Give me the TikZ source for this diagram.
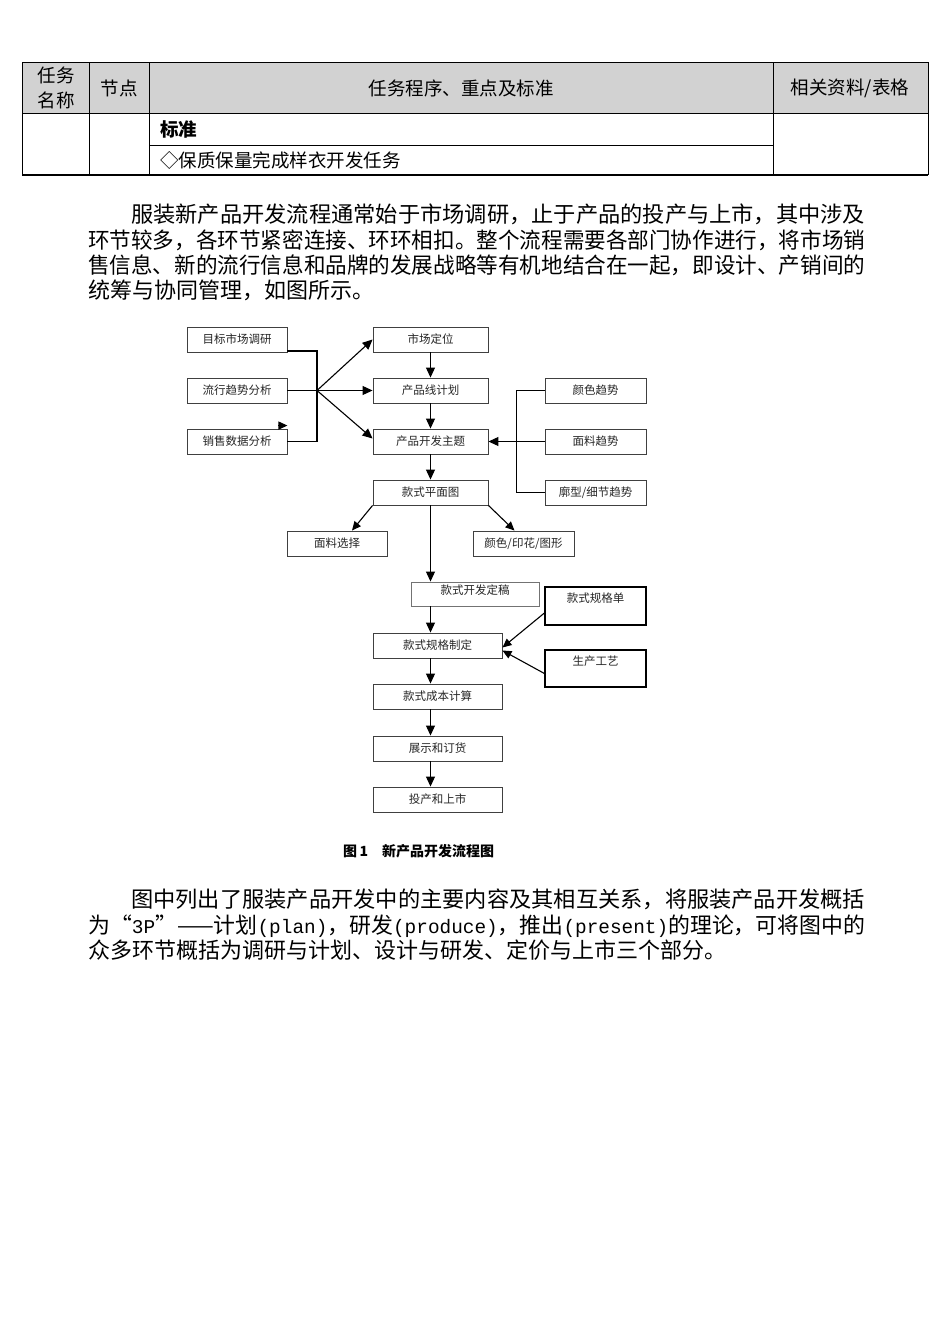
\documentclass[tikz,border=0pt]{standalone}
\usepackage{graphicx}
\usepackage{fontspec}
\setmainfont{Noto Sans CJK SC}
\newfontfamily\monof{Liberation Mono}
\usetikzlibrary{arrows.meta}
\newcommand\jline[2]{\resizebox{#1}{\height}{#2}}
\newcommand\lat[1]{{\monof\fontsize{19.5}{24}\selectfont #1}}
\tikzset{
  txt/.style={inner sep=0pt, anchor=base west, font=\fontsize{22}{26}\selectfont},
  th/.style={inner sep=0pt, font=\fontsize{18.5}{24}\selectfont, align=center},
  tcell/.style={inner sep=0pt, anchor=west, font=\fontsize{18.5}{24}\selectfont},
  tline/.style={line width=1pt, black},
  box/.style={draw=black!75, line width=0.9pt, inner sep=0pt, minimum height=25pt,
    font=\fontsize{11.5}{13}\selectfont, text=black!85},
  conn/.style={line width=1.1pt, black},
  arr/.style={conn, -{Triangle[length=10pt,width=9pt]}},
  sarr/.style={conn, -{Triangle[length=9pt,width=8pt]}},
}
\begin{document}
\begin{tikzpicture}[x=1pt,y=-1pt]
\useasboundingbox (0,0) rectangle (950,1344);
\fill[white] (0,0) rectangle (950,1344);
% ---------- table ----------
\fill[gray!35] (22,62) rectangle (928,113);
\draw[tline] (22,62) -- (928,62);
\draw[tline] (22,113) -- (928,113);
\draw[tline] (149,145) -- (773,145);
\draw[tline, line width=1.5pt] (22,175) -- (928,175);
\foreach \xx in {22,89,149,773,928}{\draw[tline] (\xx,62) -- (\xx,175);}
\node[th] (h1) at (56,88) {任务\\[1pt]名称};
\node[th] (h2) at (119,88) {节点};
\node[th] (h3) at (461,88) {任务程序、重点及标准};
\node[th] (h4) at (850,88) {相关资料/表格};
\node[tcell] (c1t) at (160,129) {\bfseries 标准};
\node[tcell] (c2t) at (160,160) {◇保质保量完成样衣开发任务};
% ---------- paragraph 1 ----------
\node[txt] (p1) at (131,222) {\jline{734pt}{服装新产品开发流程通常始于市场调研，止于产品的投产与上市，其中涉及}};
\node[txt] (p2) at (88,248) {\jline{777pt}{环节较多，各环节紧密连接、环环相扣。整个流程需要各部门协作进行，将市场销}};
\node[txt] (p3) at (88,273) {\jline{777pt}{售信息、新的流行信息和品牌的发展战略等有机地结合在一起，即设计、产销间的}};
\node[txt] (p4) at (88,298) {统筹与协同管理，如图所示。};
% ---------- diagram ----------
\node[box, minimum width=100pt] (b1) at (237,339.5) {目标市场调研};
\node[box, minimum width=100pt] (b2) at (237,390.5) {流行趋势分析};
\node[box, minimum width=100pt] (b3) at (237,441.5) {销售数据分析};
\node[box, minimum width=115pt] (m1) at (430.5,339.5) {市场定位};
\node[box, minimum width=115pt] (m2) at (430.5,390.5) {产品线计划};
\node[box, minimum width=115pt] (m3) at (430.5,441.5) {产品开发主题};
\node[box, minimum width=115pt] (m4) at (430.5,492.5) {款式平面图};
\node[box, minimum width=101pt] (r1) at (595.5,390.5) {颜色趋势};
\node[box, minimum width=101pt] (r2) at (595.5,441.5) {面料趋势};
\node[box, minimum width=101pt] (r3) at (595.5,492.5) {廓型/细节趋势};
\node[box, minimum width=100pt] (f1) at (337,543.5) {面料选择};
\node[box, minimum width=101pt] (f2) at (523.5,543.5) {颜色/印花/图形};
\node[box, draw=black!55, minimum width=128pt, minimum height=24pt, text depth=9pt] (d1) at (475,594) {款式开发定稿};
\node[box, draw=black, line width=1.2pt, minimum width=101pt, minimum height=38pt, text depth=16pt] (s1) at (595.5,606) {款式规格单};
\node[box, draw=black, line width=1.2pt, minimum width=101pt, minimum height=37pt, text depth=15pt] (s2) at (595.5,668.5) {生产工艺};
\node[box, minimum width=129pt] (k1) at (437.5,645.5) {款式规格制定};
\node[box, minimum width=129pt] (k2) at (437.5,696.5) {款式成本计算};
\node[box, minimum width=129pt] (k3) at (437.5,748.5) {展示和订货};
\node[box, minimum width=129pt] (k4) at (437.5,799.5) {投产和上市};
% left inputs
\coordinate (j) at (317,390.5);
\draw[conn] ([yshift=1.5pt]b1.south east) -| (j) |- (b3.east);
\draw[arr] (b2.east) -- (m2.west);
\draw[arr] (j) -- (m1.west);
\draw[arr] (j) -- ([yshift=3pt]m3.west);
\coordinate (st) at ([yshift=3pt]b3.north east);
\draw[sarr] ([xshift=-9pt]st) -- (st);
% main column
\draw[arr] (m1) -- (m2);
\draw[arr] (m2) -- (m3);
\draw[arr] (m3) -- (m4);
% right trends
\draw[conn] (r1.west) -- ++(-28,0) |- (r3.west);
\draw[arr] (r2.west) -- (m3.east);
% style drawing
\draw[sarr] (m4.south west) -- ([xshift=15pt]f1.north);
\draw[sarr] (m4.south east) -- ([xshift=-9pt]f2.north);
\draw[arr] (m4.south) -- (m4.south |- d1.north);
\draw[arr] (d1.south -| m4.south) -- (k1.north -| m4.south);
\draw[sarr] ([yshift=-7pt]s1.west) -- ([yshift=-2pt]k1.east);
\draw[sarr] ([yshift=-5pt]s2.west) -- ([yshift=-5pt]k1.east);
\draw[arr] (k1.south -| m4.south) -- (k2.north -| m4.south);
\draw[arr] (k2.south -| m4.south) -- (k3.north -| m4.south);
\draw[arr] (k3.south -| m4.south) -- (k4.north -| m4.south);
\node[inner sep=0pt, anchor=west, font=\fontsize{14}{16}\selectfont\bfseries] (cap) at (343,851) {图\,1\quad 新产品开发流程图};
% ---------- paragraph 2 ----------
\node[txt] (q1) at (131,907) {\jline{734pt}{图中列出了服装产品开发中的主要内容及其相互关系，将服装产品开发概括}};
\node[txt] (q2) at (88,933) {\jline{777pt}{为“\lat{3P}”——计划\lat{(plan)}，研发\lat{(produce)}，推出\lat{(present)}的理论，可将图中的}};
\node[txt] (q3) at (88,958) {众多环节概括为调研与计划、设计与研发、定价与上市三个部分。};
\end{tikzpicture}
\end{document}
